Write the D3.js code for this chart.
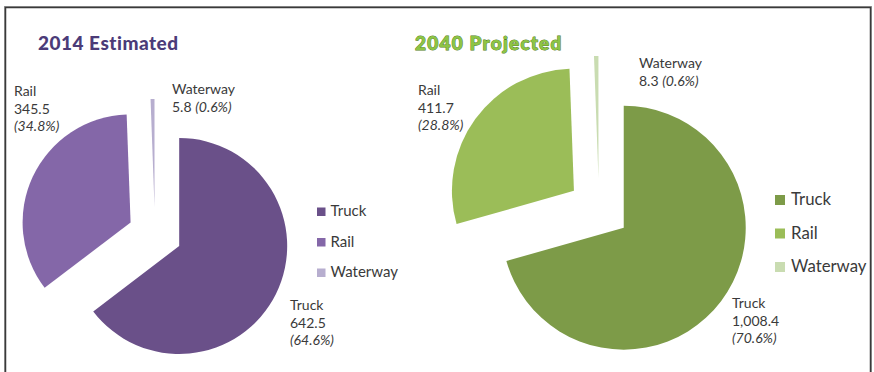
<!DOCTYPE html>
<html>
<head>
<meta charset="utf-8">
<script src="https://cdn.jsdelivr.net/npm/d3@7/dist/d3.min.js"></script>
<style>
  html, body { margin: 0; padding: 0; background: #fff; }
  svg { display: block; }
  .lbl { font-family: Lato, "Open Sans", sans-serif; fill: #3a3a3a; }
  .title { font-family: Lato, "DejaVu Sans", sans-serif; font-weight: 900; }
</style>
</head>
<body>
<svg id="chart" width="874" height="372"></svg>
<script>
// Freight tonnage by mode (millions of tons)
const modes = ["Truck", "Rail", "Waterway"];
const values2014 = [642.5, 345.5, 5.8];
const values2040 = [1008.4, 411.7, 8.3];
const shares2014 = ["64.6%", "34.8%", "0.6%"];
const shares2040 = ["70.6%", "28.8%", "0.6%"];
const titles = ["2014 Estimated", "2040 Projected"];

const colors2014 = ["#6a5089", "#8467a8", "#b7aecf"];
const colors2040 = ["#7d9b48", "#9bbd58", "#c9dcb1"];

const svg = d3.select("#chart");
const fmt = d3.format(",.1f");

// outer frame
svg.append("rect").attr("x", 4.5).attr("y", 6.5).attr("width", 867).attr("height", 400)
  .attr("fill", "none").attr("stroke", "#9a9a9a").attr("stroke-width", 1);
svg.append("rect").attr("x", 5.5).attr("y", 7.5).attr("width", 865).attr("height", 400)
  .attr("fill", "none").attr("stroke", "#3a3a3a").attr("stroke-width", 1.5);

const panels = [
  {
    values: values2014, shares: shares2014, colors: colors2014, title: titles[0],
    cx: 155, cy: 234, r: 108, explode: 27,
    titleX: 38, titleY: 50, titleSize: 19, titleSpacing: 0.5,
    titleFill: "#4b3b78", titleStroke: null,
    labels: [
      { x: 290, y: 310, lines: 3 },   // Truck
      { x: 14, y: 96, lines: 3 },     // Rail
      { x: 172, y: 94, lines: 2 }     // Waterway
    ],
    lblSize: 14,
    legend: { x: 317, y: 216, step: 30.5, box: 8.5, size: 15, gap: 5 }
  },
  {
    values: values2040, shares: shares2040, colors: colors2040, title: titles[1],
    cx: 599, cy: 209, r: 122, explode: 31,
    titleX: 415, titleY: 50, titleSize: 19, titleSpacing: 1.2,
    titleFill: "#8dc444", titleStroke: "#4f7a22",
    labels: [
      { x: 732, y: 308, lines: 3 },
      { x: 418, y: 95, lines: 3 },
      { x: 639, y: 68, lines: 2 }
    ],
    lblSize: 14,
    legend: { x: 775, y: 205, step: 33.5, box: 10, size: 16.8, gap: 6 }
  }
];

const pie = d3.pie().sort(null).startAngle(0).endAngle(2 * Math.PI);

panels.forEach(p => {
  const g = svg.append("g");
  const arc = d3.arc().innerRadius(0).outerRadius(p.r);
  const arcs = pie(p.values);

  // exploded slices
  g.selectAll("path.slice").data(arcs).join("path")
    .attr("class", "slice")
    .attr("d", arc)
    .attr("fill", (d, i) => p.colors[i])
    .attr("transform", d => {
      const mid = (d.startAngle + d.endAngle) / 2;
      const dx = p.explode * Math.sin(mid), dy = -p.explode * Math.cos(mid);
      return `translate(${p.cx + dx},${p.cy + dy})`;
    });

  // title
  const t = g.append("text").attr("class", "title")
    .attr("x", p.titleX).attr("y", p.titleY)
    .attr("font-size", p.titleSize)
    .attr("letter-spacing", p.titleSpacing)
    .attr("fill", p.titleFill)
    .text(p.title);
  if (p.titleStroke) {
    t.attr("stroke", p.titleStroke).attr("stroke-width", 0.9).attr("paint-order", "stroke");
  }

  // data labels
  arcs.forEach((d, i) => {
    const L = p.labels[i];
    const txt = g.append("text").attr("class", "lbl").attr("font-size", p.lblSize)
      .attr("x", L.x).attr("y", L.y);
    txt.append("tspan").attr("x", L.x).text(modes[i]);
    if (L.lines === 3) {
      txt.append("tspan").attr("x", L.x).attr("dy", 17.5).text(fmt(p.values[i]));
      txt.append("tspan").attr("x", L.x).attr("dy", 17.5)
        .attr("font-style", "italic").text(`(${p.shares[i]})`);
    } else {
      const t2 = txt.append("tspan").attr("x", L.x).attr("dy", 17.5);
      t2.append("tspan").text(fmt(p.values[i]) + " ");
      t2.append("tspan").attr("font-style", "italic").text(`(${p.shares[i]})`);
    }
  });

  // legend
  const lg = p.legend;
  modes.forEach((m, i) => {
    const y = lg.y + i * lg.step;
    g.append("rect").attr("x", lg.x).attr("y", y - lg.box).attr("width", lg.box).attr("height", lg.box)
      .attr("fill", p.colors[i]);
    g.append("text").attr("class", "lbl").attr("font-size", lg.size)
      .attr("x", lg.x + lg.box + lg.gap).attr("y", y).text(m);
  });
});
</script>
</body>
</html>
